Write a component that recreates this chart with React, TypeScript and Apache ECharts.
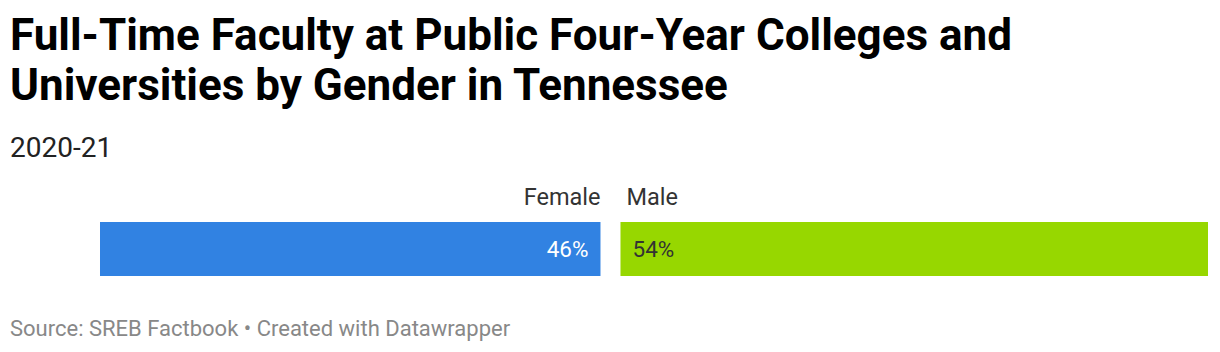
import React, { useEffect, useRef } from "react";
import * as echarts from "echarts";

const categories = ["Female", "Male"];
const shares = [46, 54];
const titleText = "Full-Time Faculty at Public Four-Year Colleges and\nUniversities by Gender in Tennessee";
const subtitleText = "2020-21";
const footerText = "Source: SREB Factbook • Created with Datawrapper";

const colors = ["#3182e2", "#97d700"];
const labelColors = ["#ffffff", "#333333"];

export default function App() {
  const ref = useRef<HTMLDivElement>(null);
  useEffect(() => {
    if (!ref.current) return;
    const chart = echarts.init(ref.current, null, { renderer: "svg" });
    const total = shares.reduce((a, b) => a + b, 0);
    const plotLeft = 100;
    const plotWidth = 1088;
    const gap = 20;
    const font = "Roboto";
    let cursor = plotLeft;
    const grids: any[] = [];
    const xAxes: any[] = [];
    const yAxes: any[] = [];
    const series: any[] = [];
    categories.forEach((cat, i) => {
      const w = (plotWidth * shares[i]) / total;
      grids.push({ left: cursor, width: w, top: 222, height: 54 });
      cursor += w + gap;
      xAxes.push({
        type: "value",
        gridIndex: i,
        min: 0,
        max: shares[i],
        position: "top",
        offset: 25,
        name: cat,
        nameLocation: i === 0 ? "end" : "start",
        nameGap: i === 0 ? 0 : -6,
        nameTextStyle: {
          fontFamily: font,
          fontSize: 23.5,
          color: "#333333",
          align: i === 0 ? "right" : "left",
          verticalAlign: "middle",
        },
        axisLine: { show: false },
        axisTick: { show: false },
        axisLabel: { show: false },
        splitLine: { show: false },
      });
      yAxes.push({
        type: "category",
        gridIndex: i,
        data: [cat],
        show: false,
      });
      series.push({
        type: "bar",
        name: cat,
        xAxisIndex: i,
        yAxisIndex: i,
        data: [shares[i]],
        barWidth: "100%",
        itemStyle: { color: colors[i] },
        label: {
          show: true,
          position: i === 0 ? "insideRight" : "insideLeft",
          distance: 12,
          formatter: (p: any) => `${p.value}%`,
          color: labelColors[i],
          fontFamily: font,
          fontSize: 22.5,
        },
        silent: true,
      });
    });

    chart.setOption({
      animation: false,
      title: [
        {
          text: titleText,
          left: 5,
          top: 5,
          textStyle: {
            fontFamily: font,
            fontSize: 44,
            fontWeight: "bold",
            lineHeight: 50,
            color: "#000000",
          },
        },
        {
          text: subtitleText,
          left: 5,
          top: 128,
          textStyle: {
            fontFamily: font,
            fontSize: 28,
            fontWeight: "normal",
            color: "#222222",
          },
        },
        {
          text: footerText,
          left: 5,
          top: 312,
          textStyle: {
            fontFamily: font,
            fontSize: 22,
            fontWeight: "normal",
            color: "#888888",
          },
        },
      ],
      grid: grids,
      xAxis: xAxes,
      yAxis: yAxes,
      series,
    });
    return () => chart.dispose();
  }, []);
  return <div ref={ref} style={{ width: 1220, height: 352, position: "absolute", left: 0, top: 0 }} />;
}
